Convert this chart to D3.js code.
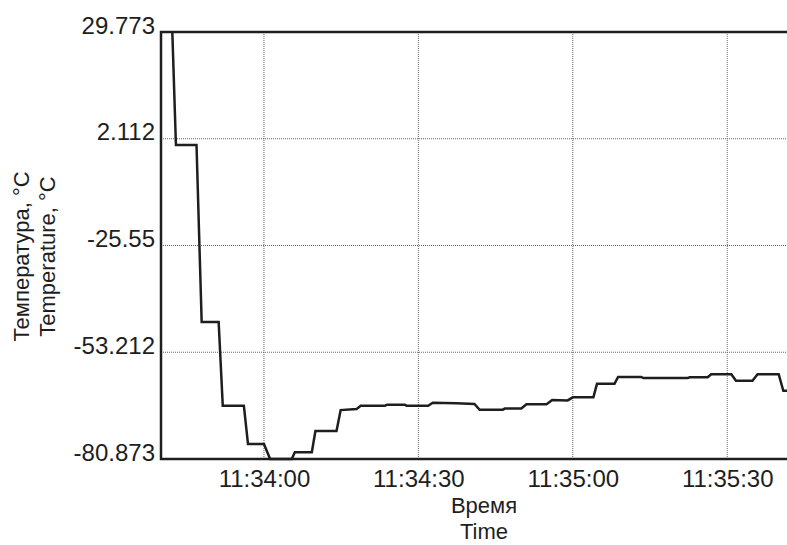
<!DOCTYPE html>
<html lang="ru">
<head>
<meta charset="UTF-8">
<title>Температура / Temperature</title>
<script src="https://cdn.jsdelivr.net/npm/d3@7"></script>
<style>
  body { margin: 0; background: #fff; }
  text { font-family: "Liberation Sans", Arial, sans-serif; fill: #1e1e1e; }
</style>
</head>
<body>
<script>

// readings: seconds after startTime, temperature in °C
var startTime = "11:33:40";
var spanSec = 125.5;
var seconds = [2.2, 2.9, 6.9, 7.9, 11.2, 12.0, 16.1, 16.9, 20.0, 21.2, 25.4, 26.0, 29.3, 30.0, 34.1,
  34.9, 38.0, 38.8, 43.5, 43.9, 47.4, 47.7, 51.9, 52.8, 57.4, 60.9, 61.9, 66.4, 66.8, 70.0,
  71.0, 74.9, 76.0, 79.0, 80.0, 84.0, 84.7, 88.1, 88.8, 93.3, 93.7, 102.3, 102.7, 106.2,
  106.9, 110.8, 111.7, 114.9, 115.9, 120.0, 120.9, 122.0];
var temps = [29.773, 0.5, 0.5, -45.4, -45.4, -67.1, -67.1, -77.0, -77.0, -80.873, -80.873, -79.1, -79.1, -73.6, -73.6,
  -68.2, -67.9, -67.1, -67.1, -66.8, -66.8, -67.1, -67.1, -66.3, -66.4, -66.6, -68.1, -68.1, -67.8, -67.8,
  -66.7, -66.7, -65.6, -65.7, -64.9, -64.9, -61.4, -61.4, -59.6, -59.6, -59.9, -59.9, -59.7, -59.7,
  -58.9, -58.9, -60.6, -60.6, -58.9, -58.9, -63.2, -63.2];

var yTicks = [29.773, 2.112, -25.55, -53.212, -80.873];
var xTicks = ["11:34:00", "11:34:30", "11:35:00", "11:35:30"];

var margin = { top: 32, left: 161, bottom: 86, right: 0 };
var width = 646;
var height = 427;
var fontSize = '24px';
var titleSize = '22px';

var parseT = d3.timeParse("%H:%M:%S");
var base = parseT(startTime);

var data = seconds.map(function (s, i) {
  return { date: new Date(base.getTime() + s * 1000), temp: temps[i] };
});

var x = d3.scaleTime()
  .domain([base, new Date(base.getTime() + spanSec * 1000)])
  .range([0, width]);
var y = d3.scaleLinear()
  .domain([-80.873, 29.773])
  .range([height, 0]);

var svg = d3.select('body').append('svg')
  .attr('width', 787)
  .attr('height', 545);
var s = svg.append('g')
  .attr('transform', 'translate(' + margin.left + ',' + margin.top + ')');

// dotted grid
s.selectAll('.vgrid')
  .data(xTicks.map(parseT))
  .enter().append('line')
  .attr('x1', function (d) { return x(d); })
  .attr('x2', function (d) { return x(d); })
  .attr('y1', 0).attr('y2', height)
  .attr('stroke', '#666').attr('stroke-width', 1).attr('stroke-dasharray', '1,1');
s.selectAll('.hgrid')
  .data(yTicks.slice(1, 4))
  .enter().append('line')
  .attr('y1', function (d) { return y(d); })
  .attr('y2', function (d) { return y(d); })
  .attr('x1', 0).attr('x2', width)
  .attr('stroke', '#666').attr('stroke-width', 1).attr('stroke-dasharray', '1,1');

// axes (labels only, no tick marks)
var axisX = s.append('g')
  .attr('transform', 'translate(0,' + height + ')')
  .call(d3.axisBottom(x).tickValues(xTicks.map(parseT)).tickSize(0)
    .tickFormat(d3.timeFormat('%H:%M:%S')));
axisX.select('.domain').remove();
axisX.selectAll('text')
  .attr('y', 28).attr('dy', 0)
  .style('font-size', fontSize).style('font-family', '"Liberation Sans", Arial, sans-serif').attr('fill', '#1e1e1e');

var axisY = s.append('g')
  .call(d3.axisLeft(y).tickValues(yTicks).tickSize(0).tickFormat(function (d) { return d; }));
axisY.select('.domain').remove();
axisY.selectAll('text')
  .attr('x', -6).attr('dy', 1)
  .style('font-size', fontSize).style('font-family', '"Liberation Sans", Arial, sans-serif').attr('fill', '#1e1e1e');

// line
var line = d3.line()
  .x(function (d) { return x(d.date); })
  .y(function (d) { return y(d.temp); });
s.append('path')
  .datum(data)
  .attr('d', line)
  .attr('fill', 'none')
  .attr('stroke', '#1e1e1e')
  .attr('stroke-width', 2.5)
  .attr('stroke-linejoin', 'miter');

// frame
s.append('rect')
  .attr('x', 0).attr('y', 0)
  .attr('width', width).attr('height', height)
  .attr('fill', 'none').attr('stroke', '#1e1e1e').attr('stroke-width', 2.5);

// axis titles
s.append('text')
  .attr('text-anchor', 'middle')
  .attr('x', width / 2).attr('y', height + 54)
  .style('font-size', titleSize)
  .text('Время');
s.append('text')
  .attr('text-anchor', 'middle')
  .attr('x', width / 2).attr('y', height + 80)
  .style('font-size', titleSize)
  .text('Time');

var yt = s.append('text')
  .attr('text-anchor', 'middle')
  .attr('transform', 'translate(' + (-132) + ',' + (height / 2 + 11) + ') rotate(-90)')
  .style('font-size', titleSize);
yt.append('tspan').attr('x', 0).attr('y', 0).text('Температура, °C');
yt.append('tspan').attr('x', 0).attr('y', 26).text('Temperature, °C');

</script>
</body>
</html>
